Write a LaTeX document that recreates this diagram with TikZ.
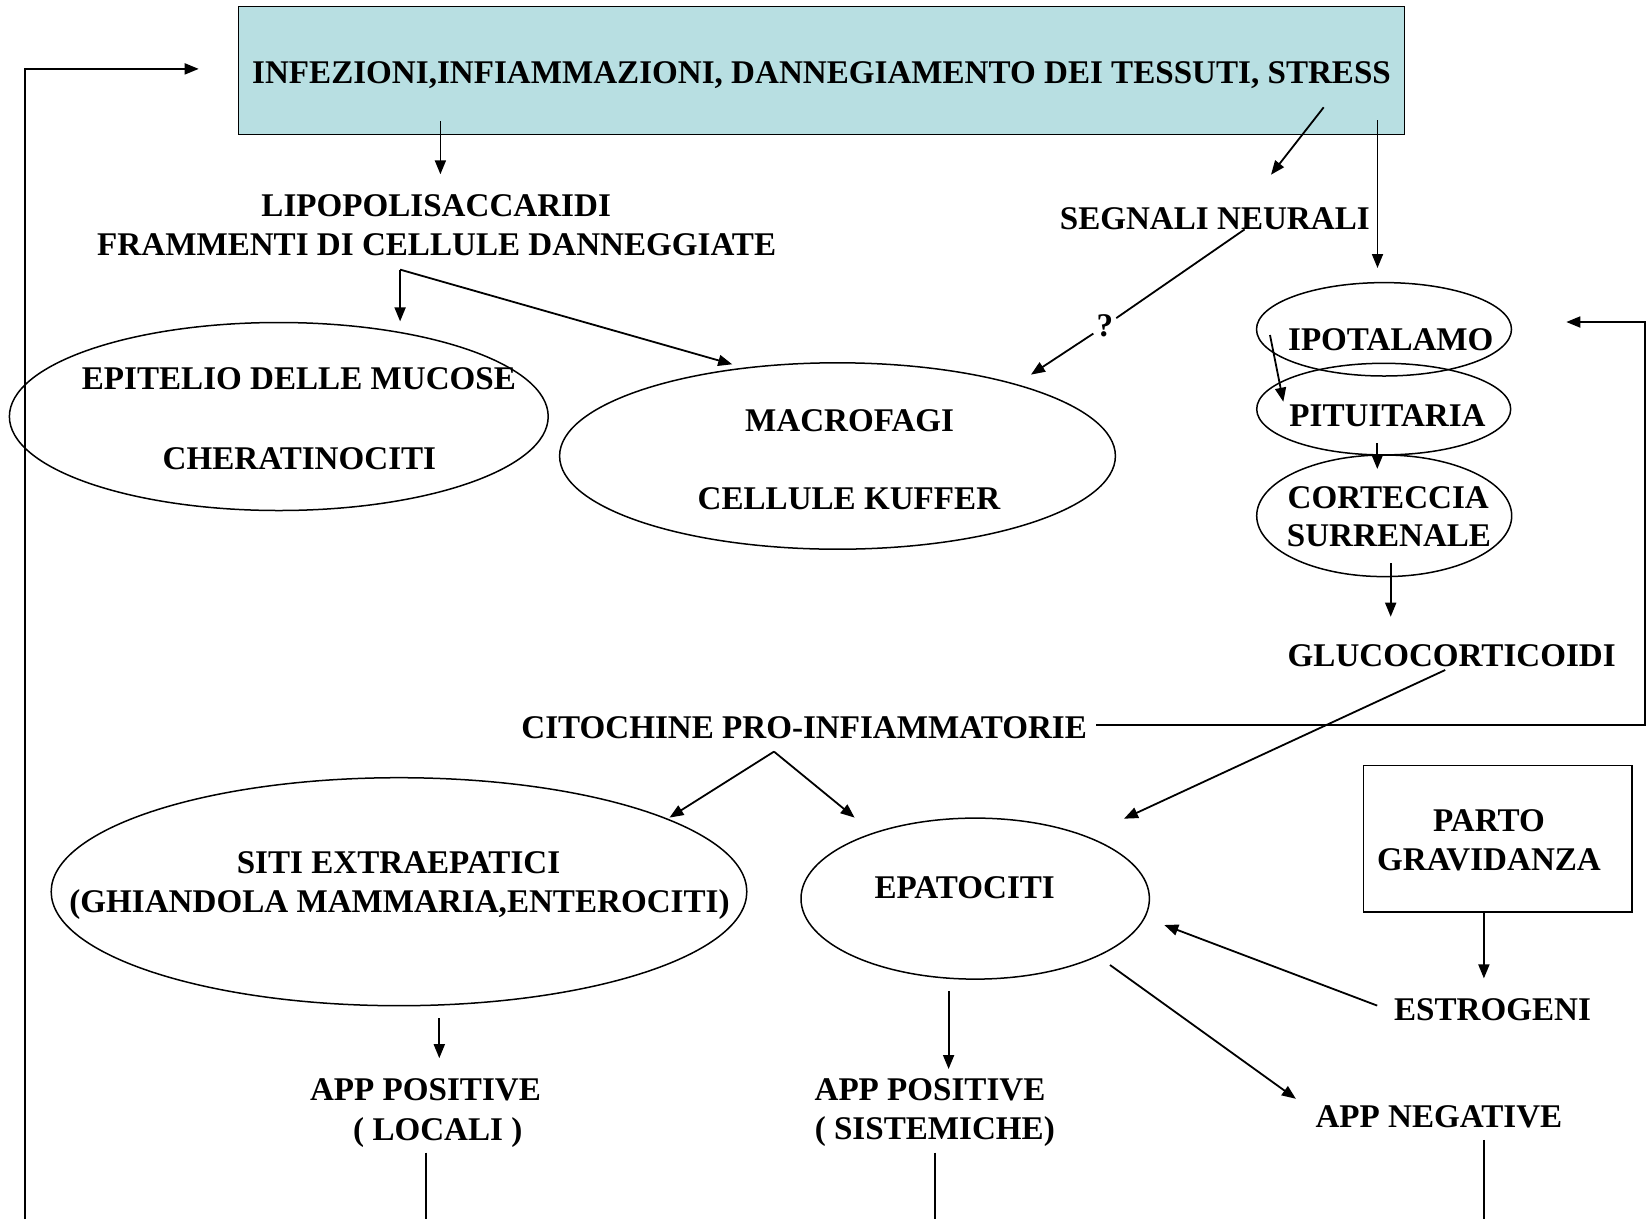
\documentclass[tikz,border=0pt]{standalone}
\usepackage{fontspec}
\setmainfont{Liberation Serif}
\usetikzlibrary{arrows.meta,shapes.geometric}
\definecolor{boxteal}{RGB}{184,223,226}
\tikzset{
  lbl/.style={anchor=base,inner sep=0pt,font=\fontsize{33.1}{40}\selectfont\bfseries},
  oval/.style={draw,ellipse,line width=1.5pt,inner sep=0pt},
  arr/.style={line width=1.8pt,-{Triangle[length=14pt,width=11pt]}},
  ln/.style={line width=1.8pt}
}
\begin{document}
\begin{tikzpicture}[x=1pt,y=-1pt]
\useasboundingbox (0,0) rectangle (1647,1219);
\fill[white] (0,0) rectangle (1647,1219);

% top box
\node[draw,fill=boxteal,line width=1.5pt,minimum width=1166pt,minimum height=128pt,inner sep=0pt] (cause) at (821.5,70.6) {};
\node[lbl] (causetxt) at (821.6,83.5) {INFEZIONI,INFIAMMAZIONI, DANNEGIAMENTO DEI TESSUTI, STRESS};

% first level
\node[lbl] (lps1) at (436.2,216) {LIPOPOLISACCARIDI};
\node[lbl] (lps2) at (436.7,255.4) {FRAMMENTI DI CELLULE DANNEGGIATE};
\node[lbl] (neur) at (1214.8,229.4) {SEGNALI NEURALI};
\node[lbl,inner sep=3pt,anchor=center] (qm) at (1104.8,326) {?};

% cellular targets
\node[oval,minimum width=538.8pt,minimum height=188pt] (epit) at (278.8,416.5) {};
\node[lbl] (epit1) at (298.9,389.3) {EPITELIO DELLE MUCOSE};
\node[lbl] (epit2) at (299.4,469.6) {CHERATINOCITI};
\node[oval,minimum width=555.8pt,minimum height=186.4pt] (macro) at (837.5,456) {};
\node[lbl] (macro1) at (849.6,431.4) {MACROFAGI};
\node[lbl] (macro2) at (848.9,509.3) {CELLULE KUFFER};

% hypothalamic axis
\node[oval,minimum width=255pt,minimum height=93.4pt] (ipot) at (1384,329.3) {};
\node[oval,minimum width=254pt,minimum height=91.6pt] (pit) at (1383.7,409.1) {};
\node[oval,minimum width=255pt,minimum height=121.6pt] (cort) at (1384.2,515.8) {};
\node[lbl] (ipottxt) at (1390.8,350) {IPOTALAMO};
\node[lbl] (pittxt) at (1387.5,426.7) {PITUITARIA};
\node[lbl] (cort1) at (1388.3,508.3) {CORTECCIA};
\node[lbl] (cort2) at (1389,546.7) {SURRENALE};
\node[lbl] (gluco) at (1451.7,666.5) {GLUCOCORTICOIDI};

% cytokines and their targets
\node[lbl] (cito) at (804.2,738) {CITOCHINE PRO-INFIAMMATORIE};
\node[oval,minimum width=695.6pt,minimum height=228pt] (siti) at (399,891.7) {};
\node[lbl] (siti1) at (398.5,873) {SITI EXTRAEPATICI};
\node[lbl] (siti2) at (399.5,912.5) {(GHIANDOLA MAMMARIA,ENTEROCITI)};
\node[oval,minimum width=348.4pt,minimum height=161pt] (epat) at (975.2,898.6) {};
\node[lbl] (epattxt) at (964.7,898.5) {EPATOCITI};
\node[draw,line width=1.5pt,minimum width=268.6pt,minimum height=146.6pt,inner sep=0pt] (parto) at (1497.7,838.7) {};
\node[lbl] (parto1) at (1489,831.4) {PARTO};
\node[lbl] (parto2) at (1489,870.6) {GRAVIDANZA};
\node[lbl] (estro) at (1492.5,1020.1) {ESTROGENI};

% acute phase proteins
\node[lbl] (appl1) at (425.5,1100) {APP POSITIVE};
\node[lbl] (appl2) at (437.8,1140) {( LOCALI )};
\node[lbl] (apps1) at (930,1100) {APP POSITIVE};
\node[lbl] (apps2) at (934.8,1139.8) {( SISTEMICHE)};
\node[lbl] (appn) at (1438.9,1127.1) {APP NEGATIVE};

% connector end points
\coordinate (loopBot) at (24.6,1219);
\coordinate (loopTip) at (198.7,68.9);
\coordinate (causeA) at (440.4,121.4);
\coordinate (lpsTip) at (440.4,174.3);
\coordinate (causeB) at (1323.7,107.3);
\coordinate (neurTip) at (1271,174.7);
\coordinate (causeC) at (1377.5,120);
\coordinate (ipotTop) at (1377.5,268);
\coordinate (lpsFork) at (400.1,269.6);
\coordinate (epitTip) at (400.1,321.4);
\coordinate (macroTip) at (732.2,364.3);
\coordinate (neurOut) at (1244.6,229.4);
\coordinate (macroTipB) at (1031,374.6);
\coordinate (ipotIn) at (1270,335);
\coordinate (pitTip) at (1283.3,401.7);
\coordinate (pitOut) at (1377.3,443);
\coordinate (cortTip) at (1377.3,469);
\coordinate (cortOut) at (1390.7,563.3);
\coordinate (glucoTip) at (1390.7,616.7);
\coordinate (glucoOut) at (1445.2,670);
\coordinate (epatTipA) at (1124,818.7);
\coordinate (citoOut) at (1096.3,725);
\coordinate (loopR) at (1645,322);
\coordinate (ipotTipR) at (1566.3,322);
\coordinate (citoFork) at (774,751.6);
\coordinate (sitiTip) at (669.5,817.6);
\coordinate (epatTipB) at (854.6,817.6);
\coordinate (estroTip) at (1483.9,978.4);
\coordinate (estroOut) at (1377.2,1005.6);
\coordinate (epatTipC) at (1164.3,925);
\coordinate (epatOutS) at (948.6,991);
\coordinate (appsTip) at (948.6,1069);
\coordinate (epatOutN) at (1110,965);
\coordinate (appnTip) at (1295.9,1098.8);
\coordinate (sitiOut) at (439.3,1018.3);
\coordinate (applTip) at (439.3,1058.2);
\coordinate (applOut) at (426.3,1152.5);
\coordinate (applBot) at (426.3,1219);
\coordinate (appsOut) at (934.8,1152.5);
\coordinate (appsBot) at (934.8,1219);
\coordinate (appnOut) at (1483.9,1139.8);
\coordinate (appnBot) at (1483.9,1219);

% connectors
\draw[arr] (loopBot) |- (loopTip);
\draw[arr] (causeA) -- (lpsTip);
\draw[arr] (causeB) -- (neurTip);
\draw[arr] (causeC) -- (ipotTop);
\draw[arr] (lpsFork) -- (epitTip);
\draw[arr] (lpsFork) -- (macroTip);
\draw[ln] (neurOut) -- (qm);
\draw[arr] (qm) -- (macroTipB);
\draw[arr] (ipotIn) -- (pitTip);
\draw[arr] (pitOut) -- (cortTip);
\draw[arr] (cortOut) -- (glucoTip);
\draw[arr] (glucoOut) -- (epatTipA);
\draw[arr] (citoOut) -| (loopR) -- (ipotTipR);
\draw[arr] (citoFork) -- (sitiTip);
\draw[arr] (citoFork) -- (epatTipB);
\draw[arr] (parto.south -| estroTip) -- (estroTip);
\draw[arr] (estroOut) -- (epatTipC);
\draw[arr] (epatOutS) -- (appsTip);
\draw[arr] (epatOutN) -- (appnTip);
\draw[arr] (sitiOut) -- (applTip);
\draw[ln] (applOut) -- (applBot);
\draw[ln] (appsOut) -- (appsBot);
\draw[ln] (appnOut) -- (appnBot);
\end{tikzpicture}
\end{document}
